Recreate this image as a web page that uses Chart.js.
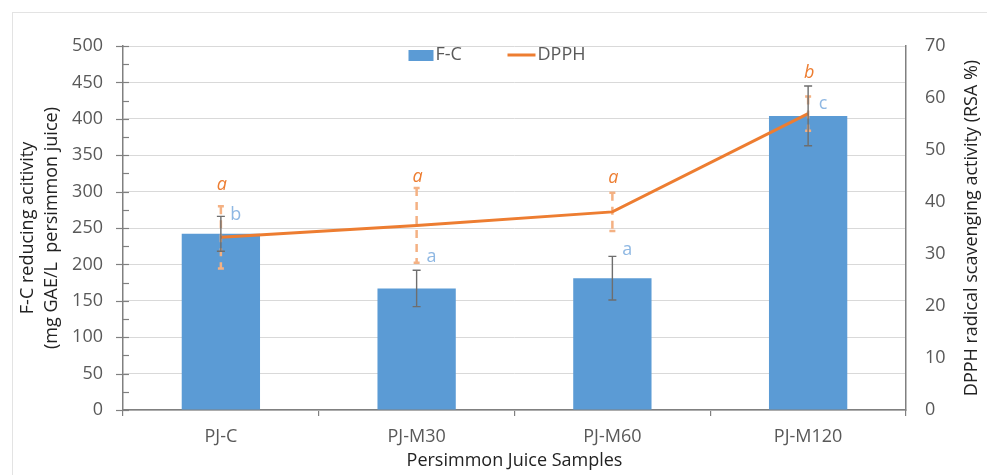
<!DOCTYPE html>
<html>
<head>
<meta charset="utf-8">
<script src="https://cdn.jsdelivr.net/npm/chart.js@4/dist/chart.umd.min.js"></script>
<style>
  html, body { margin: 0; padding: 0; background: #fff; overflow: hidden; }
  .frame { position: absolute; left: 12px; top: 12px; width: 1100px; height: 600px; border: 1px solid #e3e3e3; }
  .wrap { position: absolute; left: 0; top: 0; width: 987px; height: 475px; }
</style>
</head>
<body>
<div class="frame"></div>
<div class="wrap"><canvas id="chart" width="987" height="475"></canvas></div>
<script>
const categories = ["PJ-C", "PJ-M30", "PJ-M60", "PJ-M120"];
const fcValues = [242, 167, 181, 404];
const fcErrors = [24, 25, 30, 41];
const dpphValues = [33.2, 35.5, 38.1, 57];
const dpphErrors = [6, 7.2, 3.7, 3.3];
const fcLetters = ["b", "a", "a", "c"];
const fcLetterAt = [268, 210, 220, 421];
const dpphLetters = ["a", "a", "a", "b"];
const dpphLetterAt = [43.3, 44.9, 44.6, 64.9];
const fcTicks = [0, 50, 100, 150, 200, 250, 300, 350, 400, 450, 500];
const dpphTicks = [0, 10, 20, 30, 40, 50, 60, 70];
const rightTitle = "DPPH radical scavenging activity (RSA %)";

const BLUE = "#5b9bd5";
const ORANGE = "#ed7d31";
const GREY = "#595959";
const FONT = "'Open Sans', sans-serif";

// error bars, letters, left-axis tick marks, right title and legend
const extras = {
  id: "extras",
  afterDatasetDraw(chart, args) {
    const ctx = chart.ctx;
    const x = chart.scales.x, y1 = chart.scales.y1;
    if (args.index !== 0) return;
    // DPPH error bars (dashed), drawn after bars, before the line
    ctx.save();
    ctx.strokeStyle = "#f4b183";
    ctx.lineWidth = 2.5;
    dpphValues.forEach((v, i) => {
      const cx = x.getPixelForValue(i);
      const top = y1.getPixelForValue(v + dpphErrors[i]);
      const bot = y1.getPixelForValue(v - dpphErrors[i]);
      ctx.setLineDash([8, 6]);
      ctx.beginPath();
      ctx.moveTo(cx, top);
      ctx.lineTo(cx, bot);
      ctx.stroke();
      ctx.setLineDash([]);
      ctx.beginPath();
      ctx.moveTo(cx - 3, top); ctx.lineTo(cx + 3, top);
      ctx.moveTo(cx - 3, bot); ctx.lineTo(cx + 3, bot);
      ctx.stroke();
    });
    ctx.restore();
  },
  afterDatasetsDraw(chart) {
    const ctx = chart.ctx;
    const x = chart.scales.x, y = chart.scales.y;
    ctx.save();
    ctx.strokeStyle = "#6e6e6e";
    ctx.lineWidth = 1.4;
    fcValues.forEach((v, i) => {
      const cx = x.getPixelForValue(i);
      const top = y.getPixelForValue(v + fcErrors[i]);
      const bot = y.getPixelForValue(v - fcErrors[i]);
      ctx.beginPath();
      ctx.moveTo(cx, top); ctx.lineTo(cx, bot);
      ctx.moveTo(cx - 4, top); ctx.lineTo(cx + 4, top);
      ctx.moveTo(cx - 4, bot); ctx.lineTo(cx + 4, bot);
      ctx.stroke();
    });
    ctx.restore();
  },
  afterDraw(chart) {
    const ctx = chart.ctx;
    const x = chart.scales.x, y = chart.scales.y, y1 = chart.scales.y1;
    const area = chart.chartArea;
    ctx.save();
    // left axis tick marks: major crossing, minor inside
    ctx.strokeStyle = "#808080";
    ctx.lineWidth = 1.2;
    for (let v = 0; v <= 500; v += 25) {
      const py = Math.round(y.getPixelForValue(v)) + 0.5;
      ctx.beginPath();
      ctx.moveTo(v % 50 === 0 ? area.left - 7 : area.left, py);
      ctx.lineTo(area.left + 6, py);
      ctx.stroke();
    }
    // significance letters
    ctx.textAlign = "center";
    ctx.textBaseline = "middle";
    fcLetters.forEach((t, i) => {
      ctx.font = "18px " + FONT;
      ctx.fillStyle = "#8fb8e3";
      ctx.fillText(t, x.getPixelForValue(i) + 15, y.getPixelForValue(fcLetterAt[i]));
    });
    dpphLetters.forEach((t, i) => {
      ctx.font = "italic 18px " + FONT;
      ctx.fillStyle = ORANGE;
      ctx.fillText(t, x.getPixelForValue(i) + 1, y1.getPixelForValue(dpphLetterAt[i]));
    });
    // right axis title, reading bottom to top
    ctx.save();
    ctx.translate(y1.right - 15, (area.top + area.bottom) / 2);
    ctx.rotate(-Math.PI / 2);
    ctx.font = "18px " + FONT;
    ctx.fillStyle = "#222";
    ctx.fillText(rightTitle, 0, 0);
    ctx.restore();
    // legend inside the plot
    const ds = chart.data.datasets;
    const mid = (area.left + area.right) / 2;
    const ly = area.top + 9;
    ctx.font = "18px " + FONT;
    ctx.textAlign = "left";
    ctx.fillStyle = ds[0].backgroundColor;
    ctx.fillRect(mid - 106, ly - 5, 25, 11);
    ctx.fillStyle = GREY;
    ctx.fillText(ds[0].label, mid - 79, ly);
    ctx.strokeStyle = ds[1].borderColor;
    ctx.lineWidth = 3;
    ctx.beginPath();
    ctx.moveTo(mid - 7, ly); ctx.lineTo(mid + 21, ly);
    ctx.stroke();
    ctx.fillText(ds[1].label, mid + 23, ly);
    ctx.restore();
  }
};

new Chart(document.getElementById("chart"), {
  type: "bar",
  data: {
    labels: categories,
    datasets: [
      {
        type: "bar",
        label: "F-C",
        data: fcValues,
        backgroundColor: BLUE,
        borderWidth: 0,
        barPercentage: 0.4,
        categoryPercentage: 1,
        yAxisID: "y",
        order: 2,
      },
      {
        type: "line",
        label: "DPPH",
        data: dpphValues,
        borderColor: ORANGE,
        backgroundColor: ORANGE,
        borderWidth: 3,
        pointRadius: 0,
        tension: 0,
        yAxisID: "y1",
        order: 1,
      },
    ],
  },
  options: {
    responsive: false,
    animation: false,
    devicePixelRatio: 1,
    layout: { padding: { top: 46, left: 0, right: 0, bottom: 0 } },
    plugins: {
      legend: { display: false },
      tooltip: { enabled: false },
    },
    scales: {
      x: {
        afterFit: (s) => { s.height = 65; },
        grid: { offset: true, drawOnChartArea: false, tickLength: 6, color: "#808080", lineWidth: 1.2 },
        border: { color: "#808080", width: 1.5 },
        ticks: { color: GREY, font: { family: FONT, size: 18 }, padding: 10 },
        title: {
          display: true,
          text: "Persimmon Juice Samples",
          color: "#222",
          font: { family: FONT, size: 18 },
          padding: { top: 0, bottom: 3 },
        },
      },
      y: {
        position: "left",
        min: 0,
        max: 500,
        afterFit: (s) => { s.width = 123; },
        afterBuildTicks: (s) => { s.ticks = fcTicks.map((v) => ({ value: v })); },
        grid: { color: "#d9d9d9", drawTicks: false },
        border: { color: "#808080", width: 1.5 },
        ticks: { color: GREY, font: { family: FONT, size: 18 }, padding: 20 },
        title: {
          display: true,
          text: ["F-C reducing acitivity", "(mg GAE/L  persimmon juice)"],
          color: "#222",
          font: { family: FONT, size: 18, lineHeight: 1.33 },
          padding: { top: 16, bottom: 0 },
        },
      },
      y1: {
        position: "right",
        min: 0,
        max: 70,
        afterFit: (s) => { s.width = 81; },
        afterBuildTicks: (s) => { s.ticks = dpphTicks.map((v) => ({ value: v })); },
        grid: { drawOnChartArea: false, drawTicks: false },
        border: { color: "#808080", width: 1.5 },
        ticks: { color: GREY, font: { family: FONT, size: 18 }, padding: 19 },
      },
    },
  },
  plugins: [extras],
});
</script>
</body>
</html>
